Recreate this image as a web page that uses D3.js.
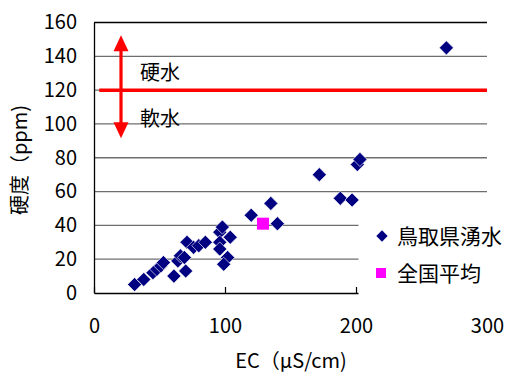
<!DOCTYPE html>
<html><head><meta charset="utf-8">
<script src="https://cdn.jsdelivr.net/npm/d3@7"></script>
<style>body{margin:0;background:#fff}svg{display:block}</style>
</head><body>
<svg id="c" width="512" height="376"></svg>
<script>
// Data
const springEC = [31,38,45,48,51,53,61,64,66,70,69,71,76,80,85,96,98,96,104,96,102,99,120,135,140,172,188,197,201,203,269];
const springHardness = [5,8,12,14,16,18,10,19,22,13,21,30,27,28,30,36,39,30,33,26,21,17,46,53,41,70,56,55,76,79,145];
const nationalEC = [129];
const nationalHardness = [41];
const xTicks = [0,100,200,300];
const yTicks = [0,20,40,60,80,100,120,140,160];
const seriesNames = ["鳥取県湧水","全国平均"];
const thresholdValue = 120;           // 硬水/軟水 boundary
const arrowRange = [152.5, 91.5];     // vertical arrow extent (ppm)
const thresholdXRange = [4, 300];

const svg = d3.select("#c");
const font = "'Noto Sans CJK JP','Noto Sans',sans-serif";
const x = d3.scaleLinear().domain([0,300]).range([94,487]);
const y = d3.scaleLinear().domain([0,160]).range([293,22.5]);

// gridlines
svg.append("g").selectAll("line").data(yTicks.filter(d=>d>0 && d<160)).join("line")
  .attr("x1",x(0)).attr("x2",x(300)).attr("y1",d=>y(d)).attr("y2",d=>y(d))
  .attr("stroke","#6e6e6e").attr("stroke-width",1.3);
// top border
svg.append("line").attr("x1",x(0)).attr("x2",x(300)).attr("y1",y(160)).attr("y2",y(160))
  .attr("stroke","#000").attr("stroke-width",1.3);

// axes
const yAxis = d3.axisLeft(y).tickValues(yTicks).tickSize(0).tickPadding(17);
const gy = svg.append("g").attr("transform",`translate(${x(0)},0)`).call(yAxis);
gy.select(".domain").attr("stroke","#000").attr("stroke-width",1.3);
gy.selectAll("text").attr("font-family",font).attr("font-size",20).attr("fill","#000");

const xAxis = d3.axisBottom(x).tickValues(xTicks).tickSize(-6).tickPadding(26).tickSizeOuter(0);
const gx = svg.append("g").attr("transform",`translate(0,${y(0)})`).call(xAxis);
gx.select(".domain").attr("stroke","#000").attr("stroke-width",1.3);
gx.selectAll(".tick line").attr("stroke","#000").attr("stroke-width",1.2);
gx.selectAll("text").attr("font-family",font).attr("font-size",20).attr("fill","#000");

// threshold line
svg.append("line").attr("x1",x(thresholdXRange[0])).attr("x2",x(thresholdXRange[1]))
  .attr("y1",y(thresholdValue)).attr("y2",y(thresholdValue))
  .attr("stroke","#ff0000").attr("stroke-width",3.5);
// double arrow
const ax = 121, hw = 7.5, hl = 16;
const yTop = y(arrowRange[0]), yBot = y(arrowRange[1]);
svg.append("line").attr("x1",ax).attr("x2",ax).attr("y1",yTop+hl-2).attr("y2",yBot-hl+2)
  .attr("stroke","#ff0000").attr("stroke-width",3.2);
svg.append("path").attr("d",`M${ax},${yTop}L${ax+hw},${yTop+hl}L${ax-hw},${yTop+hl}Z`).attr("fill","#ff0000");
svg.append("path").attr("d",`M${ax},${yBot}L${ax+hw},${yBot-hl}L${ax-hw},${yBot-hl}Z`).attr("fill","#ff0000");
svg.append("text").attr("x",140).attr("y",y(thresholdValue)-10).text("硬水")
  .attr("font-family",font).attr("font-size",20).attr("fill","#000");
svg.append("text").attr("x",140).attr("y",y(thresholdValue)+36).text("軟水")
  .attr("font-family",font).attr("font-size",20).attr("fill","#000");

// points
const diamond = d3.symbol().type(d3.symbolSquare).size(100);
svg.append("g").selectAll("path").data(springEC.map((e,i)=>[e,springHardness[i]])).join("path")
  .attr("d",diamond).attr("transform",d=>`translate(${x(d[0])},${y(d[1])}) rotate(45)`)
  .attr("fill","#000080").attr("stroke","#fff").attr("stroke-width",0.6);
svg.append("g").selectAll("rect").data(nationalEC.map((e,i)=>[e,nationalHardness[i]])).join("rect")
  .attr("x",d=>x(d[0])-6).attr("y",d=>y(d[1])-6).attr("width",12).attr("height",12)
  .attr("fill","#ff00ff");

// legend (white box covering plot)
svg.append("rect").attr("x",358.5).attr("y",210).attr("width",154).attr("height",90).attr("fill","#fff");
const lg = svg.append("g");
lg.append("path").attr("d",d3.symbol().type(d3.symbolSquare).size(64)).attr("transform","translate(382,236) rotate(45)").attr("fill","#000080");
lg.append("rect").attr("x",376).attr("y",268).attr("width",10).attr("height",10).attr("fill","#ff00ff");
lg.selectAll("text").data(seriesNames).join("text")
  .attr("x",397).attr("y",(d,i)=>236+i*37).attr("dy","0.36em").text(d=>d)
  .attr("font-family",font).attr("font-size",21).attr("fill","#000");

// axis titles
svg.append("text").attr("x",291).attr("y",361).attr("dy","0.36em").attr("text-anchor","middle")
  .text("EC（μS/cm)").attr("font-family",font).attr("font-size",20).attr("fill","#000");
svg.append("text").attr("transform","translate(20,160) rotate(-90)").attr("dy","0.36em").attr("text-anchor","middle")
  .text("硬度（ppm)").attr("font-family",font).attr("font-size",20).attr("fill","#000");
</script>
</body></html>
